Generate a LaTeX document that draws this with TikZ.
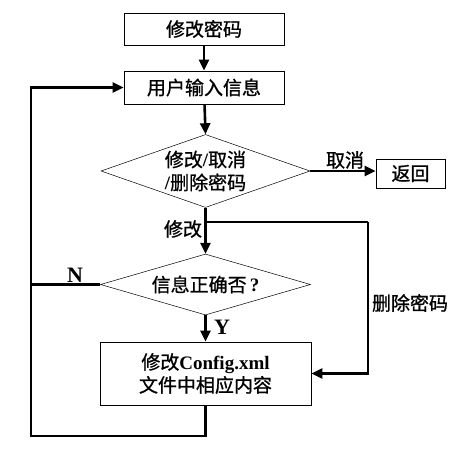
\documentclass[tikz,border=0pt]{standalone}
\usepackage{fontspec}
\setmainfont{Noto Sans CJK SC}[FakeBold=1]
\newfontfamily\lat{Liberation Serif}
\newcommand{\lb}[1]{{\lat\bfseries #1}}
\usetikzlibrary{arrows.meta,shapes.geometric}

\begin{document}
\begin{tikzpicture}[x=1pt,y=-1pt,
  font=\fontsize{19}{23}\selectfont,
  box/.style={draw,line width=0.9pt,inner sep=0pt},
  dec/.style={draw,diamond,line width=0.5pt,inner sep=0pt},
  line/.style={line width=2.6pt},
  flow/.style={line width=2.6pt,-{Triangle[length=11pt,width=10pt]}}]
  \useasboundingbox (0,0) rectangle (476,458);
  % boxes
  \node[box,minimum width=160pt,minimum height=32pt] (start) at (204,29) {修改密码};
  \node[box,minimum width=160pt,minimum height=33pt] (input) at (204,87.5) {用户输入信息};
  \node[box,minimum width=69pt,minimum height=29pt] (back) at (410.5,173.5) {返回};
  \node[box,minimum width=211pt,minimum height=63pt,align=center] (edit) at (205.5,373.5)
    {修改\lb{Config.xml}\\文件中相应内容};
  % decisions
  \node[dec,minimum width=209pt,minimum height=73pt] (choice) at (205.5,171) {};
  \node[align=center] (choicetxt) at (choice) {修改\lb{/}取消\\\lb{/}删除密码};
  \node[dec,minimum width=210pt,minimum height=61pt] (check) at (205.5,284.5) {};
  \node (checktxt) at (check) {信息正确否\,\lb{?}};
  \coordinate (split) at (205.5,222);
  \coordinate (right) at (368,222);
  \coordinate (loop) at (31,436);
  % connectors
  \draw[flow] (start) -- (input);
  \draw[flow] (input) -- (choice.north);
  \draw[flow] (choice.east) -- (choice.east -| back.west);
  \draw[flow] (choice.south) -- (check.north);
  \draw[line] (split) -- (right);
  \draw[flow] (right) |- (edit.east);
  \draw[flow] (check.south) -- (edit.north);
  \draw[line] (check.west) -- (check.west -| loop);
  \draw[flow] (edit.south) |- (loop) |- (input.west);
  % labels
  \node (lcancel) at (345,160) {取消};
  \node (ledit) at (183,229) {修改};
  \node (ldel) at (410,303) {删除密码};
  \node[font=\fontsize{22}{26}\selectfont] (lno) at (75,275) {\lb{N}};
  \node[font=\fontsize{22}{26}\selectfont] (lyes) at (222,327) {\lb{Y}};
\end{tikzpicture}
\end{document}
